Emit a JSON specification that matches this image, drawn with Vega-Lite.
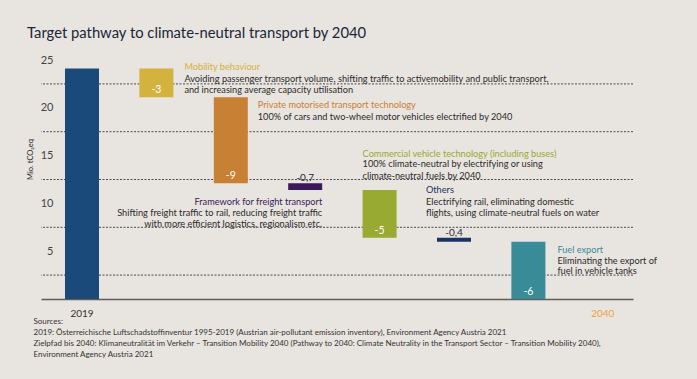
{
  "$schema": "https://vega.github.io/schema/vega-lite/v6.json",
  "width": 592,
  "height": 239,
  "autosize": {"type": "none"},
  "padding": {"left": 41, "top": 60, "right": 64, "bottom": 80},
  "background": "#e8e4df",
  "config": {
    "view": {"stroke": null},
    "font": "Lato",
    "axis": {"labelFont": "Lato", "titleFont": "Lato"},
    "text": {"font": "Lato"}
  },
  "title": {
    "text": "Target pathway to climate-neutral transport by 2040",
    "anchor": "start",
    "frame": "group",
    "fontSize": 14.8,
    "fontWeight": "normal",
    "font": "Lato",
    "color": "#1a2638",
    "dx": -14,
    "dy": 6,
    "offset": 7,
    "baseline": "alphabetic"
  },
  "data": {
    "values": [
      {"step": "2019", "start": 24.1, "end": 0, "value": 24.1, "label": "", "title": "", "desc": []},
      {"step": "Mobility", "start": 24.1, "end": 21.1, "value": -3, "label": "-3", "title": "Mobility behaviour", "desc": ["Avoiding passenger transport volume, shifting traffic to activemobility and public transport,", "and increasing average capacity utilisation"]},
      {"step": "Private", "start": 21.1, "end": 12.1, "value": -9, "label": "-9", "title": "Private motorised transport technology", "desc": ["100% of cars and two-wheel motor vehicles electrified by 2040"]},
      {"step": "Freight", "start": 12.1, "end": 11.4, "value": -0.7, "label": "-0,7", "title": "Framework for freight transport", "desc": ["Shifting freight traffic to rail, reducing freight traffic", "with more efficient logistics, regionalism etc."]},
      {"step": "Commercial", "start": 11.4, "end": 6.4, "value": -5, "label": "-5", "title": "Commercial vehicle technology (including buses)", "desc": ["100% climate-neutral by electrifying or using", "climate-neutral fuels by 2040"]},
      {"step": "Others", "start": 6.4, "end": 6.0, "value": -0.4, "label": "-0,4", "title": "Others", "desc": ["Electrifying rail, eliminating domestic", "flights, using climate-neutral fuels on water"]},
      {"step": "Fuel", "start": 6.0, "end": 0, "value": -6, "label": "-6", "title": "Fuel export", "desc": ["Eliminating the export of", "fuel in vehicle tanks"]},
      {"step": "2040", "start": 0, "end": 0, "value": 0, "label": "", "title": "", "desc": []}
    ]
  },
  "layer": [
    {
      "data": {"values": [{"grid": 2.5}, {"grid": 7.5}, {"grid": 12.5}, {"grid": 17.5}, {"grid": 22.5}]},
      "mark": {"type": "rule", "stroke": "#3a3a3a", "strokeDash": [2, 1.5], "strokeWidth": 0.9},
      "encoding": {
        "y": {"field": "grid", "type": "quantitative", "scale": {"domain": [0, 25], "nice": false}}
      }
    },
    {
      "mark": {"type": "bar"},
      "encoding": {
        "x": {
          "field": "step", "type": "nominal",
          "scale": {"domain": ["2019", "Mobility", "Private", "Freight", "Commercial", "Others", "Fuel", "2040"], "paddingInner": 0.543, "paddingOuter": 0.25, "align": 0.645},
          "axis": {
            "values": ["2019", "2040"],
            "labelAngle": 0,
            "ticks": false,
            "grid": false,
            "domain": true,
            "domainColor": "#5e5e5e",
            "domainWidth": 1.5,
            "labelPadding": 9,
            "labelFontSize": 10,
            "labelFontWeight": "normal",
            "labelColor": {"condition": {"test": "datum.value === '2040'", "value": "#e9a43c"}, "value": "#333333"},
            "title": ["Sources:", "2019: Österreichische Luftschadstoffinventur 1995-2019 (Austrian air-pollutant emission inventory), Environment Agency Austria 2021", "Zielpfad bis 2040: Klimaneutralität im Verkehr – Transition Mobility 2040 (Pathway to 2040: Climate Neutrality in the Transport Sector – Transition Mobility 2040),", "Environment Agency Austria 2021"],
            "titleAnchor": "start",
            "titleAlign": "left",
            "titleBaseline": "top",
            "titleX": -8,
            "titleY": 18,
            "titleFontSize": 8,
            "titleFontWeight": "normal",
            "titleFont": "Lato",
            "titleLineHeight": 11,
            "titleColor": "#333333"
          }
        },
        "y": {
          "field": "start", "type": "quantitative",
          "scale": {"domain": [0, 25], "nice": false},
          "axis": {
            "title": "Mio. tCO₂eq",
            "values": [5, 10, 15, 20, 25],
            "grid": false,
            "ticks": false,
            "domain": false,
            "offset": -12,
            "labelPadding": 0,
            "labelFontSize": 11,
            "labelColor": "#444444",
            "titleFontSize": 7.5,
            "titleFontWeight": "normal",
            "titleColor": "#222222",
            "titleX": -23,
            "titleY": 99,
            "titleBaseline": "middle",
            "titleAlign": "center"
          }
        },
        "y2": {"field": "end"},
        "color": {
          "field": "step", "type": "nominal",
          "scale": {"domain": ["2019", "Mobility", "Private", "Freight", "Commercial", "Others", "Fuel", "2040"], "range": ["#194a7a", "#d3b23e", "#c88035", "#3a1a58", "#98aa32", "#1b3263", "#3a8b98", "#e9a43c"]},
          "legend": null
        }
      }
    },
    {
      "transform": [{"filter": "datum.value <= -1"}],
      "mark": {"type": "text", "baseline": "alphabetic", "dy": -4, "fontSize": 10.5, "color": "#ffffff"},
      "encoding": {
        "x": {"field": "step", "type": "nominal"},
        "y": {"field": "end", "type": "quantitative"},
        "text": {"field": "label"}
      }
    },
    {
      "transform": [{"filter": "datum.value < 0 && datum.value > -1"}],
      "mark": {"type": "text", "baseline": "alphabetic", "dy": -2, "fontSize": 10, "color": "#2a2a3a"},
      "encoding": {
        "x": {"field": "step", "type": "nominal"},
        "y": {"field": "start", "type": "quantitative"},
        "text": {"field": "label"}
      }
    },
    {
      "transform": [{"filter": "datum.step === 'Mobility'"}],
      "encoding": {
        "x": {"field": "step", "type": "nominal", "bandPosition": 1},
        "y": {"field": "start", "type": "quantitative"}
      },
      "layer": [
        {"mark": {"type": "text", "align": "left", "baseline": "alphabetic", "dx": 11, "dy": 1, "fontSize": 9.2},
         "encoding": {"text": {"field": "title"}, "color": {"field": "step", "type": "nominal", "legend": null}}},
        {"mark": {"type": "text", "align": "left", "baseline": "alphabetic", "dx": 11, "dy": 13.5, "fontSize": 9.2, "lineHeight": 11, "color": "#2b2b2b"},
         "encoding": {"text": {"field": "desc"}}}
      ]
    },
    {
      "transform": [{"filter": "datum.step === 'Private'"}],
      "encoding": {
        "x": {"field": "step", "type": "nominal", "bandPosition": 1},
        "y": {"field": "start", "type": "quantitative"}
      },
      "layer": [
        {"mark": {"type": "text", "align": "left", "baseline": "alphabetic", "dx": 10, "dy": 10.7, "fontSize": 9.2},
         "encoding": {"text": {"field": "title"}, "color": {"field": "step", "type": "nominal", "legend": null}}},
        {"mark": {"type": "text", "align": "left", "baseline": "alphabetic", "dx": 10, "dy": 22.4, "fontSize": 9.2, "lineHeight": 11, "color": "#2b2b2b"},
         "encoding": {"text": {"field": "desc"}}}
      ]
    },
    {
      "transform": [{"filter": "datum.step === 'Commercial'"}],
      "encoding": {
        "x": {"field": "step", "type": "nominal", "bandPosition": 0},
        "y": {"field": "start", "type": "quantitative"}
      },
      "layer": [
        {"mark": {"type": "text", "align": "left", "baseline": "alphabetic", "dx": 0, "dy": -33, "fontSize": 9.2},
         "encoding": {"text": {"field": "title"}, "color": {"field": "step", "type": "nominal", "legend": null}}},
        {"mark": {"type": "text", "align": "left", "baseline": "alphabetic", "dx": 0, "dy": -22.7, "fontSize": 9.2, "lineHeight": 11.4, "color": "#2b2b2b"},
         "encoding": {"text": {"field": "desc"}}}
      ]
    },
    {
      "transform": [{"filter": "datum.step === 'Freight'"}],
      "encoding": {
        "x": {"field": "step", "type": "nominal", "bandPosition": 1},
        "y": {"field": "end", "type": "quantitative"}
      },
      "layer": [
        {"mark": {"type": "text", "align": "right", "baseline": "alphabetic", "dx": 0, "dy": 14.7, "fontSize": 9.2},
         "encoding": {"text": {"field": "title"}, "color": {"field": "step", "type": "nominal", "legend": null}}},
        {"mark": {"type": "text", "align": "right", "baseline": "alphabetic", "dx": 0, "dy": 25.5, "fontSize": 9.2, "lineHeight": 11, "color": "#2b2b2b"},
         "encoding": {"text": {"field": "desc"}}}
      ]
    },
    {
      "transform": [{"filter": "datum.step === 'Others'"}],
      "encoding": {
        "x": {"field": "step", "type": "nominal", "bandPosition": 0},
        "y": {"field": "start", "type": "quantitative"}
      },
      "layer": [
        {"mark": {"type": "text", "align": "left", "baseline": "alphabetic", "dx": -11, "dy": -44.8, "fontSize": 9.2},
         "encoding": {"text": {"field": "title"}, "color": {"field": "step", "type": "nominal", "legend": null}}},
        {"mark": {"type": "text", "align": "left", "baseline": "alphabetic", "dx": -11, "dy": -32.5, "fontSize": 9.2, "lineHeight": 10.5, "color": "#2b2b2b"},
         "encoding": {"text": {"field": "desc"}}}
      ]
    },
    {
      "transform": [{"filter": "datum.step === 'Fuel'"}],
      "encoding": {
        "x": {"field": "step", "type": "nominal", "bandPosition": 1},
        "y": {"field": "start", "type": "quantitative"}
      },
      "layer": [
        {"mark": {"type": "text", "align": "left", "baseline": "alphabetic", "dx": 12, "dy": 11.4, "fontSize": 9.2},
         "encoding": {"text": {"field": "title"}, "color": {"field": "step", "type": "nominal", "legend": null}}},
        {"mark": {"type": "text", "align": "left", "baseline": "alphabetic", "dx": 12, "dy": 22, "fontSize": 9.2, "lineHeight": 10.5, "color": "#2b2b2b"},
         "encoding": {"text": {"field": "desc"}}}
      ]
    }
  ]
}
